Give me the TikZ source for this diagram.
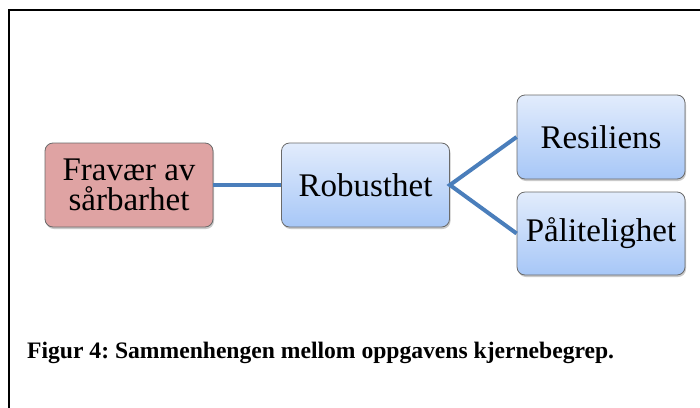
\documentclass[tikz,border=0pt]{standalone}
\usepackage{fontspec}
\setmainfont{Liberation Serif}
\usetikzlibrary{shadows}
\frenchspacing
\definecolor{linkblue}{HTML}{4A7EBB}
\definecolor{boxtop}{HTML}{E2ECFC}
\definecolor{boxbot}{HTML}{A7C7F7}
\definecolor{redfill}{HTML}{DFA3A3}
\definecolor{boxedge}{HTML}{6A6A6A}
\tikzset{
  concept/.style={draw=boxedge, line width=0.8pt, rounded corners=8pt,
    minimum width=168pt, minimum height=84pt, inner sep=0pt, align=center,
    font=\fontsize{33}{30}\selectfont,
    drop shadow={shadow xshift=1pt, shadow yshift=-2pt, opacity=0.35, fill=black!60}},
  bluebox/.style={concept, top color=boxtop, bottom color=boxbot},
  redbox/.style={concept, fill=redfill},
  link/.style={draw=linkblue, line width=4pt},
  frameline/.style={draw=black, line width=1.8pt}
}
\begin{document}
\begin{tikzpicture}[x=1pt, y=-1pt]
\useasboundingbox (0,0) rectangle (700,407);
\coordinate (ftl) at (9,10);
\coordinate (ftr) at (701,10);
\coordinate (fbl) at (9,408);
\draw[frameline] (ftr) -- (ftl) -- (fbl);
\node[redbox] (fra) at (129,185) {Fravær av\\sårbarhet};
\node[bluebox] (rob) at (365.5,185) {Robusthet};
\node[bluebox] (res) at (601,137) {Resiliens};
\node[bluebox, minimum height=83pt] (pal) at (601,233.5) {Pålitelighet};
\draw[link] (fra.east) -- (rob.west);
\draw[link, line join=miter] (res.west) -- (rob.east) -- (pal.west);
\node[anchor=base west, inner sep=0pt, font=\fontsize{23.6}{26}\selectfont\bfseries] (cap) at (27,358) {Figur 4: Sammenhengen mellom oppgavens kjernebegrep.};
\end{tikzpicture}
\end{document}
